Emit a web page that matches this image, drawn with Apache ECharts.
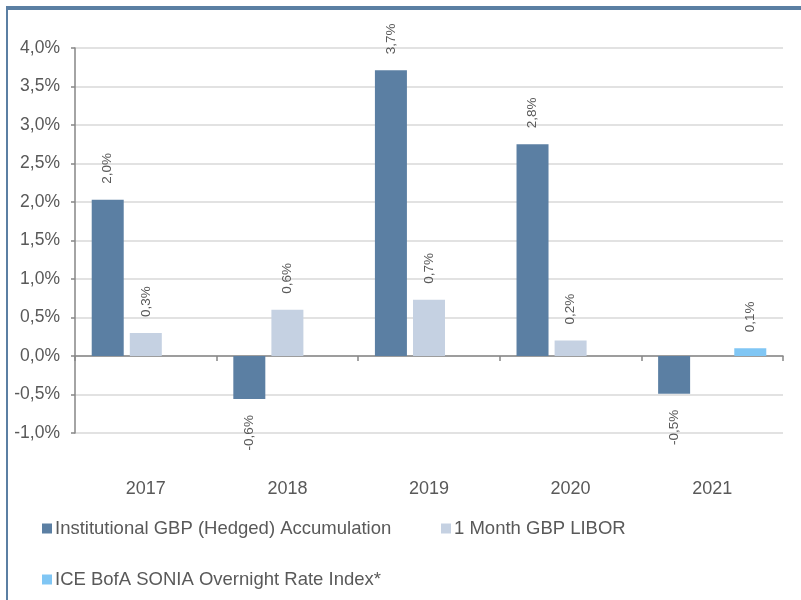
<!DOCTYPE html>
<html>
<head>
<meta charset="utf-8">
<script src="https://cdn.jsdelivr.net/npm/echarts@6/dist/echarts.min.js"></script>
<style>html,body{margin:0;padding:0;background:#fff}#c{width:801px;height:600px}</style>
</head>
<body>
<div id="c"></div>
<script>
var categories = ['2017', '2018', '2019', '2020', '2021'];
var seriesNames = ['Institutional GBP (Hedged) Accumulation', '1 Month GBP LIBOR', 'ICE BofA SONIA Overnight Rate Index*'];
var fundValues = [2.03, -0.56, 3.71, 2.75, -0.49];
var liborValues = [0.30, 0.60, 0.73, 0.20, null];
var soniaValues = [null, null, null, null, 0.10];
var yTicks = [-1.0, -0.5, 0, 0.5, 1.0, 1.5, 2.0, 2.5, 3.0, 3.5, 4.0];

var textColor = '#595959';
var fontFam = '"Liberation Sans", Arial, sans-serif';

function fmt(v) { return v.toFixed(1).replace('.', ',') + '%'; }

function toData(arr) {
  return arr.map(function (v) {
    if (v === null) return '-';
    if (v < 0) {
      return { value: v, label: { position: 'bottom', align: 'right' } };
    }
    return { value: v };
  });
}

var labelBase = {
  show: true,
  position: 'top',
  distance: 16,
  rotate: 90,
  align: 'left',
  verticalAlign: 'middle',
  color: textColor,
  fontSize: 13.5,
  fontFamily: fontFam,
  formatter: function (p) { return fmt(p.value); }
};

var colors = ['#5B7FA3', '#C5D1E2', '#80C6F4'];
var legendText = { color: textColor, fontSize: 18.5, fontFamily: fontFam, padding: [0, 0, 0, -2] };

var chart = echarts.init(document.getElementById('c'));
chart.setOption({
  animation: false,
  color: colors,
  grid: { left: 75, right: 18, top: 48, bottom: 167, containLabel: false },
  graphic: [
    { type: 'rect', shape: { x: 6, y: 6, width: 795, height: 4 }, style: { fill: '#5B7FA3' } },
    { type: 'rect', shape: { x: 6, y: 6, width: 2, height: 594 }, style: { fill: '#5B7FA3' } }
  ],
  legend: [
    { left: 37, top: 514, itemWidth: 10, itemHeight: 10, icon: 'rect', textStyle: legendText, data: [seriesNames[0]] },
    { left: 436, top: 514, itemWidth: 10, itemHeight: 10, icon: 'rect', textStyle: legendText, data: [seriesNames[1]] },
    { left: 37, top: 565, itemWidth: 10, itemHeight: 10, icon: 'rect', textStyle: legendText, data: [seriesNames[2]] }
  ],
  xAxis: {
    type: 'category',
    data: categories,
    axisLine: { onZero: true, lineStyle: { color: '#868686', width: 1.5 } },
    axisTick: { show: true, length: 5, lineStyle: { color: '#868686', width: 1.5 } },
    axisLabel: { color: textColor, fontSize: 18, fontFamily: fontFam, margin: 47 },
    splitLine: { show: false }
  },
  yAxis: {
    type: 'value',
    min: -1.0,
    max: 4.0,
    interval: 0.5,
    axisLine: { show: true, lineStyle: { color: '#868686', width: 1.5 } },
    axisTick: { show: true, length: 4, lineStyle: { color: '#868686', width: 1.5 } },
    axisLabel: { color: textColor, fontSize: 17.5, fontFamily: fontFam, margin: 15,
      formatter: function (v) { return fmt(v); } },
    splitLine: { show: true, lineStyle: { color: '#D9D9D9', width: 1.5 } }
  },
  series: [
    { name: seriesNames[0], type: 'bar', barWidth: 32, barGap: '19%', data: toData(fundValues), label: labelBase },
    { name: seriesNames[1], type: 'bar', barWidth: 32, barGap: '19%', data: toData(liborValues), label: labelBase },
    { name: seriesNames[2], type: 'bar', barWidth: 32, barGap: '19%', data: toData(soniaValues), label: labelBase }
  ]
});
</script>
</body>
</html>
